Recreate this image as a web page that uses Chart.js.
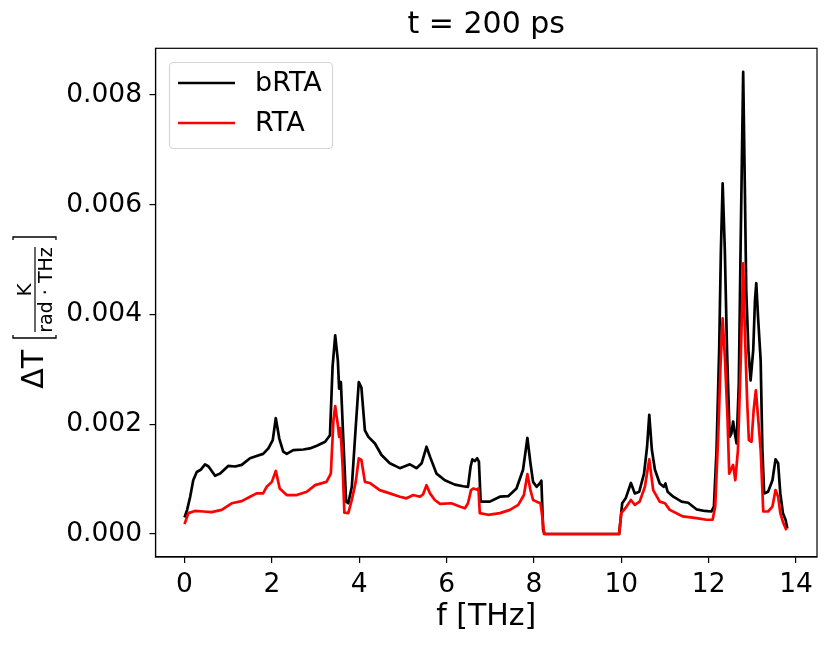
<!DOCTYPE html>
<html>
<head>
<meta charset="utf-8">
<script src="https://cdn.jsdelivr.net/npm/chart.js@4.4.0/dist/chart.umd.min.js"></script>
<style>
  html, body { margin: 0; padding: 0; background: #fff; }
  canvas { display: block; }
</style>
</head>
<body>
<canvas id="chart" width="831" height="648"></canvas>
<script>
// frequency [THz] and ΔT values (in units of 1e-3 K/(rad·THz))
const freqB = [0.00,0.06,0.13,0.20,0.28,0.37,0.47,0.55,0.70,0.81,
  1.00,1.16,1.31,1.50,1.65,1.80,1.92,2.02,2.09,2.17,
  2.26,2.34,2.49,2.72,2.87,3.03,3.22,3.33,3.39,3.45,
  3.51,3.54,3.58,3.63,3.70,3.75,3.83,3.92,3.99,4.05,
  4.13,4.21,4.36,4.51,4.70,4.93,5.16,5.31,5.43,5.54,
  5.62,5.77,5.96,6.19,6.38,6.49,6.55,6.59,6.65,6.70,
  6.74,6.78,6.99,7.22,7.41,7.60,7.75,7.85,7.92,7.98,
  8.06,8.14,8.17,8.21,8.25,9.95,10.02,10.10,10.22,10.31,
  10.41,10.52,10.59,10.64,10.70,10.77,10.88,10.97,11.01,11.06,
  11.19,11.38,11.53,11.72,11.91,12.06,12.12,12.18,12.24,12.28,
  12.32,12.37,12.42,12.48,12.52,12.56,12.60,12.64,12.69,12.73,
  12.79,12.83,12.86,12.91,12.96,13.02,13.06,13.09,13.13,13.19,
  13.23,13.27,13.36,13.46,13.53,13.59,13.64,13.70,13.76,13.80];
const bRta = [0.30,0.44,0.68,0.98,1.13,1.17,1.27,1.23,1.06,1.10,
  1.24,1.23,1.26,1.38,1.42,1.46,1.56,1.71,2.11,1.74,
  1.50,1.46,1.53,1.54,1.56,1.61,1.68,1.80,3.05,3.62,
  3.17,2.65,2.77,1.83,0.59,0.56,0.86,1.95,2.77,2.67,
  1.89,1.77,1.65,1.44,1.29,1.20,1.27,1.20,1.29,1.59,
  1.41,1.10,0.98,0.90,0.87,0.86,1.23,1.36,1.33,1.38,
  1.32,0.59,0.59,0.68,0.69,0.83,1.17,1.75,1.29,0.95,
  0.86,0.93,0.97,0.07,0,0,0.56,0.65,0.93,0.74,
  0.77,1.10,1.59,2.17,1.53,1.17,0.92,0.86,0.92,0.77,
  0.68,0.59,0.57,0.45,0.42,0.41,0.50,1.53,3.35,5.17,
  6.39,5.17,3.35,1.77,1.83,2.05,1.83,1.65,2.74,5.17,
  8.42,6.21,4.44,3.35,2.80,3.35,4.26,4.57,3.96,3.17,
  1.53,0.74,0.77,0.98,1.36,1.29,0.74,0.38,0.26,0.10];

const freqR = [0.00,0.09,0.24,0.43,0.62,0.85,1.08,1.31,1.50,1.65,
  1.80,1.88,2.00,2.09,2.18,2.34,2.57,2.80,2.99,3.25,
  3.35,3.41,3.45,3.51,3.54,3.57,3.62,3.66,3.75,3.83,
  3.92,3.99,4.05,4.13,4.24,4.47,4.70,4.93,5.08,5.24,
  5.39,5.46,5.54,5.62,5.73,5.85,6.11,6.30,6.42,6.49,
  6.56,6.61,6.69,6.73,6.76,6.95,7.22,7.45,7.64,7.77,
  7.85,7.92,7.98,8.06,8.15,8.20,8.23,9.95,10.00,10.12,
  10.22,10.31,10.42,10.54,10.64,10.73,10.88,11.00,11.11,11.41,
  11.72,11.95,12.09,12.15,12.22,12.27,12.32,12.37,12.43,12.47,
  12.51,12.56,12.61,12.67,12.73,12.79,12.83,12.88,12.92,12.98,
  13.03,13.08,13.13,13.19,13.25,13.36,13.46,13.53,13.59,13.64,
  13.70,13.78];
const rta = [0.18,0.38,0.42,0.41,0.40,0.44,0.56,0.60,0.68,0.74,
  0.74,0.86,0.95,1.15,0.83,0.71,0.71,0.77,0.89,0.95,
  1.10,2.08,2.33,1.99,1.77,1.93,1.23,0.39,0.38,0.62,
  0.95,1.38,1.35,0.95,0.93,0.80,0.74,0.68,0.65,0.71,
  0.68,0.72,0.89,0.74,0.62,0.55,0.56,0.50,0.47,0.56,
  0.80,0.83,0.81,0.83,0.38,0.35,0.38,0.44,0.53,0.71,
  1.09,0.80,0.62,0.59,0.56,0.26,0,0,0.38,0.50,
  0.62,0.53,0.59,0.86,1.36,0.80,0.59,0.56,0.44,0.32,
  0.29,0.26,0.26,0.50,1.83,3.05,3.93,3.23,2.14,1.10,
  1.17,1.26,0.98,1.53,3.05,4.93,3.66,2.44,1.71,1.68,
  2.26,2.62,2.14,1.53,0.41,0.41,0.50,0.80,0.68,0.38,
  0.22,0.07];

const xTicks = [0, 2, 4, 6, 8, 10, 12, 14];
const yTicks = [0, 0.002, 0.004, 0.006, 0.008];
const seriesNames = ['bRTA', 'RTA'];
const seriesColors = ['#000000', '#ff0000'];
const MILLI = 1e-3;
const LINE_W = 2.7;

Chart.defaults.font.family = "'DejaVu Sans', sans-serif";
Chart.defaults.color = '#000';

const toPoints = (xs, ys) => xs.map((x, i) => ({ x: x, y: ys[i] * MILLI }));

// top + right spines (chart.js only draws left/bottom)
const framePlugin = {
  id: 'frame',
  afterDatasetsDraw(chart) {
    const a = chart.chartArea, ctx = chart.ctx;
    ctx.save();
    ctx.strokeStyle = '#000';
    ctx.lineWidth = 1.2;
    ctx.strokeRect(a.left, a.top, a.right - a.left, a.bottom - a.top);
    ctx.restore();
  }
};

// y axis title: ΔT [ K / (rad·THz) ], rotated
const yLabelPlugin = {
  id: 'yLabel',
  afterDraw(chart) {
    const ctx = chart.ctx;
    ctx.save();
    ctx.rotate(-Math.PI / 2); // (a, b) -> screen (b, -a)
    ctx.fillStyle = '#000';
    ctx.strokeStyle = '#000';
    ctx.textBaseline = 'alphabetic';

    ctx.font = "30px 'DejaVu Sans'";
    ctx.textAlign = 'right';
    ctx.fillText('ΔT', -350, 43);

    ctx.lineWidth = 1.3;
    ctx.beginPath();
    ctx.moveTo(-335, 13); ctx.lineTo(-338, 13); ctx.lineTo(-338, 56); ctx.lineTo(-335, 56);
    ctx.moveTo(-240, 13); ctx.lineTo(-237, 13); ctx.lineTo(-237, 56); ctx.lineTo(-240, 56);
    ctx.stroke();

    ctx.lineWidth = 1.2;
    ctx.beginPath();
    ctx.moveTo(-332, 35); ctx.lineTo(-247, 35);
    ctx.stroke();

    ctx.textAlign = 'center';
    ctx.font = "20px 'DejaVu Sans'";
    ctx.fillText('K', -290, 31);
    ctx.font = "19px 'DejaVu Sans'";
    ctx.fillText('rad · THz', -290, 52);
    ctx.restore();
  }
};

// matplotlib style legend box in the upper left
const legendPlugin = {
  id: 'mplLegend',
  afterDraw(chart) {
    const ctx = chart.ctx;
    const x = 169, y = 62, w = 163, h = 86;
    ctx.save();
    ctx.beginPath();
    ctx.roundRect(x + 0.5, y + 0.5, w, h, 4);
    ctx.fillStyle = 'rgba(255,255,255,0.8)';
    ctx.fill();
    ctx.strokeStyle = '#d6d6d6';
    ctx.lineWidth = 1.2;
    ctx.stroke();
    chart.data.datasets.forEach((ds, i) => {
      const ly = 83 + i * 40;
      ctx.strokeStyle = ds.borderColor;
      ctx.lineWidth = LINE_W;
      ctx.beginPath();
      ctx.moveTo(178, ly); ctx.lineTo(235, ly);
      ctx.stroke();
      ctx.fillStyle = '#000';
      ctx.font = "27px 'DejaVu Sans'";
      ctx.textAlign = 'left';
      ctx.textBaseline = 'middle';
      ctx.fillText(ds.label, 255, ly + 1);
    });
    ctx.restore();
  }
};

new Chart(document.getElementById('chart'), {
  type: 'line',
  data: {
    datasets: [
      { label: seriesNames[0], data: toPoints(freqB, bRta), borderColor: seriesColors[0],
        borderWidth: LINE_W, pointRadius: 0, tension: 0, borderJoinStyle: 'round', order: 1 },
      { label: seriesNames[1], data: toPoints(freqR, rta), borderColor: seriesColors[1],
        borderWidth: LINE_W, pointRadius: 0, tension: 0, borderJoinStyle: 'round', order: 0 }
    ]
  },
  options: {
    responsive: false,
    animation: false,
    layout: { padding: { left: 0, right: 14, top: 0, bottom: 0 } },
    plugins: {
      legend: { display: false },
      tooltip: { enabled: false },
      title: {
        display: true, text: 't = 200 ps', color: '#000', fullSize: false,
        font: { size: 30, weight: 'normal' },
        padding: { top: 7.6, bottom: 4.7 }
      }
    },
    scales: {
      x: {
        type: 'linear', min: -0.664, max: 14.48,
        afterBuildTicks: s => { s.ticks = xTicks.map(v => ({ value: v })); },
        afterFit: s => { s.height = 91; s.paddingLeft = 0; s.paddingRight = 0; },
        ticks: { font: { size: 26.5 }, color: '#000', padding: 6, maxRotation: 0, callback: v => String(v) },
        grid: { display: true, drawOnChartArea: false, drawTicks: true, tickLength: 6, color: '#000', lineWidth: 1.2 },
        border: { display: true, color: '#000', width: 1.2 },
        title: { display: true, text: 'f [THz]', color: '#000', font: { size: 30 }, padding: { top: 0, bottom: 12.4 } }
      },
      y: {
        type: 'linear', min: -0.000419, max: 0.008851,
        afterBuildTicks: s => { s.ticks = yTicks.map(v => ({ value: v })); },
        afterFit: s => { s.width = 155.5; s.paddingTop = 0; s.paddingBottom = 0; },
        ticks: { font: { size: 26.5 }, color: '#000', padding: 7.5, callback: v => v.toFixed(3) },
        grid: { display: true, drawOnChartArea: false, drawTicks: true, tickLength: 6, color: '#000', lineWidth: 1.2 },
        border: { display: true, color: '#000', width: 1.2 }
      }
    }
  },
  plugins: [framePlugin, yLabelPlugin, legendPlugin]
});
</script>
</body>
</html>
